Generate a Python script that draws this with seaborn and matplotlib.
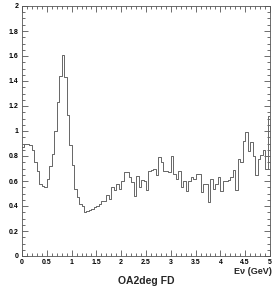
import matplotlib
matplotlib.use("Agg")
import matplotlib.pyplot as plt
import seaborn as sns
import numpy as np
import pandas as pd
from matplotlib.ticker import MultipleLocator, FuncFormatter

# bin contents, 100 bins of 0.05 GeV from 0 to 5
flux = [
    0.87, 0.90, 0.90, 0.89, 0.85, 0.75, 0.68, 0.58, 0.56, 0.55,
    0.62, 0.72, 0.82, 1.00, 1.23, 1.44, 1.61, 1.43, 1.13, 0.89,
    0.73, 0.54, 0.47, 0.42, 0.40, 0.35, 0.36, 0.37, 0.38, 0.39,
    0.40, 0.42, 0.44, 0.44, 0.49, 0.46, 0.55, 0.53, 0.58, 0.54,
    0.60, 0.67, 0.67, 0.63, 0.59, 0.48, 0.64, 0.55, 0.61, 0.60,
    0.53, 0.68, 0.69, 0.70, 0.65, 0.79, 0.75, 0.68, 0.68, 0.67,
    0.80, 0.66, 0.62, 0.68, 0.55, 0.60, 0.52, 0.60, 0.63, 0.62,
    0.66, 0.66, 0.51, 0.58, 0.58, 0.43, 0.62, 0.54, 0.58, 0.635,
    0.52, 0.60, 0.60, 0.61, 0.63, 0.69, 0.53, 0.78, 0.75, 0.92,
    0.99, 0.84, 0.91, 0.80, 0.65, 0.78, 0.81, 0.85, 0.70, 1.12,
]
bin_width = 0.05
e_min, e_max = 0.0, 5.0
centers = e_min + bin_width * (np.arange(len(flux)) + 0.5)
df = pd.DataFrame({"E": centers, "flux": flux})

sns.set_style("ticks")
plt.rcParams['font.family'] = ['Liberation Sans', 'DejaVu Sans']

fig = plt.figure(figsize=(2.77, 2.91), dpi=100)
ax = fig.add_axes([22 / 277, 35 / 291, 248 / 277, 250 / 291])

sns.histplot(data=df, x="E", weights="flux", binwidth=bin_width,
             binrange=(e_min, e_max), element="step", fill=False,
             color="#666666", linewidth=0.7, ax=ax)

ax.set_xlim(0, 5)
ax.set_ylim(0, 2)
ax.xaxis.set_major_locator(MultipleLocator(0.5))
ax.xaxis.set_minor_locator(MultipleLocator(0.1))
ax.yaxis.set_major_locator(MultipleLocator(0.2))
ax.yaxis.set_minor_locator(MultipleLocator(0.05))
fmt = FuncFormatter(lambda v, p: f"{v:g}")
ax.xaxis.set_major_formatter(fmt)
ax.yaxis.set_major_formatter(fmt)

ax.tick_params(which="both", direction="in", top=True, right=True,
               colors="#555555", labelcolor="black", width=0.6)
ax.tick_params(which="major", length=4, labelsize=5, pad=2.5)
ax.tick_params(which="minor", length=2)
for lab in ax.get_xticklabels() + ax.get_yticklabels():
    lab.set_fontweight("bold")
for s in ax.spines.values():
    s.set_color("#555555")
    s.set_linewidth(0.6)

ax.set_xlabel("")
ax.set_ylabel("")
fig.text(272 / 277, 1 - 271 / 291, "E\u03bd (GeV)", ha="right", va="center",
         fontsize=6.5, fontweight="bold")
fig.text(146 / 277, 1 - 281 / 291, "OA2deg FD", ha="center", va="center",
         fontsize=7.5, fontweight="bold")

fig.savefig("out.png", dpi=100)
